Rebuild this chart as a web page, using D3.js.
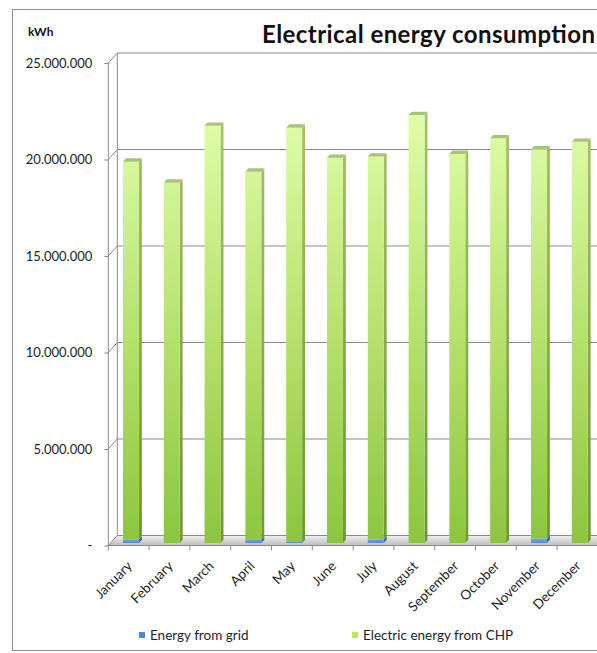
<!DOCTYPE html>
<html>
<head>
<meta charset="utf-8">
<script src="https://cdn.jsdelivr.net/npm/d3@7/dist/d3.min.js"></script>
<style>
  html, body { margin: 0; padding: 0; background: #ffffff; }
  svg { display: block; font-family: Lato, "Open Sans", sans-serif; }
</style>
</head>
<body>
<svg id="chart" width="597" height="653"></svg>
<script>
// Monthly electrical energy, kWh
const months = ["January", "February", "March", "April", "May", "June",
                "July", "August", "September", "October", "November", "December"];
const gridEnergy = [190000, 0, 0, 170000, 60000, 0, 180000, 0, 0, 0, 230000, 0];
const chpEnergy  = [19570000, 18670000, 21620000, 19070000, 21460000, 19960000,
                    19840000, 22180000, 20160000, 20970000, 20170000, 20790000];
const yTicks = [0, 5000000, 10000000, 15000000, 20000000, 25000000];
const seriesNames = ["Energy from grid", "Electric energy from CHP"];

const svg = d3.select("#chart");

// Pseudo-3D layout: front plane scales plus a wall depth offset
const x = d3.scaleBand().domain(months).range([108.3, 108.3 + 40.8 * 12]).padding(0);
const y = d3.scaleLinear().domain([0, 25000000]).range([545.5, 63]);
const DX = 9, DY = 10;          // wall depth (back wall is up-right of front)
const barFront = 0.25, barBack = 0.58;   // bar depth as fraction of wall depth
const barFrac = 0.39;           // bar width as fraction of band

const loc = d3.formatLocale({ decimal: ",", thousands: ".", grouping: [3], currency: ["", ""] });
const fmt = v => v === 0 ? "-" : loc.format(",d")(v);

// gradients
const defs = svg.append("defs");
function vGrad(id, y1, y2, stops) {
  const g = defs.append("linearGradient").attr("id", id)
    .attr("gradientUnits", "userSpaceOnUse")
    .attr("x1", 0).attr("x2", 0).attr("y1", y1).attr("y2", y2);
  stops.forEach(s => g.append("stop").attr("offset", s[0]).attr("stop-color", s[1]));
}
vGrad("gFront", y(22500000), y(0), [[0, "#e0fea9"], [0.5, "#b7e26e"], [1, "#8cc53e"]]);
vGrad("gSide", y(22500000), y(0), [[0, "#a6c46a"], [1, "#6c9a2a"]]);
vGrad("gFloor", y(0) - DY, y(0), [[0, "#f0f0f0"], [1, "#bdbdbd"]]);
vGrad("gBlue", y(300000) - 3, y(0), [[0, "#7fb0f0"], [1, "#3d7fd6"]]);

// chart area border
svg.append("rect").attr("x", 12.5).attr("y", 9.5).attr("width", 620).attr("height", 641)
  .attr("fill", "#ffffff").attr("stroke", "#8f8f8f").attr("stroke-width", 1);

const x0 = x.range()[0], x1 = x.range()[1];
const gridColor = "#8a8a8a";

// floor
svg.append("path")
  .attr("d", `M${x0},${y(0)} L${x1},${y(0)} L${x1 + DX},${y(0) - DY} L${x0 + DX},${y(0) - DY} Z`)
  .attr("fill", "url(#gFloor)");

// back wall edge and left wall edge
svg.append("line").attr("x1", x0 + DX).attr("x2", x0 + DX)
  .attr("y1", y(25000000) - DY).attr("y2", y(0) - DY)
  .attr("stroke", gridColor);
svg.append("line").attr("x1", x0).attr("x2", x0)
  .attr("y1", y(25000000)).attr("y2", y(0))
  .attr("stroke", gridColor);

// gridlines: diagonal on the side wall, then along the back wall
svg.append("g").selectAll("path").data(yTicks).join("path")
  .attr("d", v => `M${x0},${y(v)} L${x0 + DX},${y(v) - DY} L${x1 + DX},${y(v) - DY}`)
  .attr("fill", "none").attr("stroke", gridColor).attr("stroke-width", 1);

// x axis front edge and ticks at band boundaries
svg.append("line").attr("x1", x0).attr("x2", x1).attr("y1", y(0)).attr("y2", y(0))
  .attr("stroke", gridColor);
svg.append("g").selectAll("line").data(months.map(m => x(m)).concat([x1])).join("line")
  .attr("x1", d => d).attr("x2", d => d).attr("y1", y(0)).attr("y2", y(0) + 5)
  .attr("stroke", gridColor);

// y axis
const yAxis = svg.append("g").attr("transform", `translate(${x0},0)`)
  .call(d3.axisLeft(y).tickValues(yTicks).tickFormat(fmt).tickSize(4).tickPadding(12));
yAxis.select(".domain").remove();
yAxis.selectAll(".tick line").attr("stroke", gridColor);
yAxis.selectAll(".tick text").attr("font-size", 13).attr("fill", "#1e1e1e")
  .attr("font-family", "Lato, sans-serif");

// stacked pseudo-3D columns
const bw = x.bandwidth() * barFrac;
const ddx = (barBack - barFront) * DX, ddy = (barBack - barFront) * DY;
const offX = barFront * DX, offY = barFront * DY;

const stackData = months.map((m, i) => ({ month: m, grid: gridEnergy[i], chp: chpEnergy[i] }));
const stacked = d3.stack().keys(["grid", "chp"])(stackData);
const faceStyles = [
  { front: "url(#gBlue)", side: "#2f66b3", top: "#9cc2f2" },
  { front: "url(#gFront)", side: "url(#gSide)", top: "#a9c47a" }
];

stacked.forEach((layer, li) => {
  const st = faceStyles[li];
  const g = svg.append("g");
  layer.forEach(seg => {
    if (seg[1] - seg[0] <= 0) return;
    const m = seg.data.month;
    const xl = x(m) + (x.bandwidth() - bw) / 2 + offX;
    const xr = xl + bw;
    const yt = y(seg[1]) - offY;
    const yb = y(seg[0]) - offY;
    // side face
    g.append("path")
      .attr("d", `M${xr},${yt} L${xr + ddx},${yt - ddy} L${xr + ddx},${yb - ddy} L${xr},${yb} Z`)
      .attr("fill", st.side);
    // front face
    g.append("rect").attr("x", xl).attr("y", yt).attr("width", bw).attr("height", yb - yt)
      .attr("fill", st.front);
    // top face
    g.append("path")
      .attr("d", `M${xl},${yt} L${xl + ddx},${yt - ddy} L${xr + ddx},${yt - ddy} L${xr},${yt} Z`)
      .attr("fill", st.top);
  });
});

// month labels
svg.append("g").selectAll("text").data(months).join("text")
  .attr("transform", m => `translate(${x(m) + x.bandwidth() / 2 + 1},${y(0) + 18}) rotate(-45)`)
  .attr("text-anchor", "end").attr("dy", "0.35em")
  .attr("font-size", 13.5).attr("fill", "#1e1e1e")
  .text(m => m);

// title and unit
svg.append("text").attr("x", 262).attr("y", 43)
  .attr("font-size", 24).attr("font-weight", "bold").attr("fill", "#111")
  .attr("textLength", 333).attr("lengthAdjust", "spacing")
  .text("Electrical energy consumption");
svg.append("text").attr("x", 28).attr("y", 36)
  .attr("font-size", 12).attr("font-weight", "bold").attr("fill", "#111")
  .text("kWh");

// legend
const legendColors = ["#4a88dc", "#b9e46f"];
const legendX = [139, 352];
const lg = svg.append("g").selectAll("g").data(seriesNames).join("g")
  .attr("transform", (d, i) => `translate(${legendX[i]},632)`);
lg.append("rect").attr("width", 6).attr("height", 6).attr("fill", (d, i) => legendColors[i]);
lg.append("text").attr("x", 11).attr("y", 7.5).attr("font-size", 13.5).attr("fill", "#1e1e1e")
  .text(d => d);
</script>
</body>
</html>
